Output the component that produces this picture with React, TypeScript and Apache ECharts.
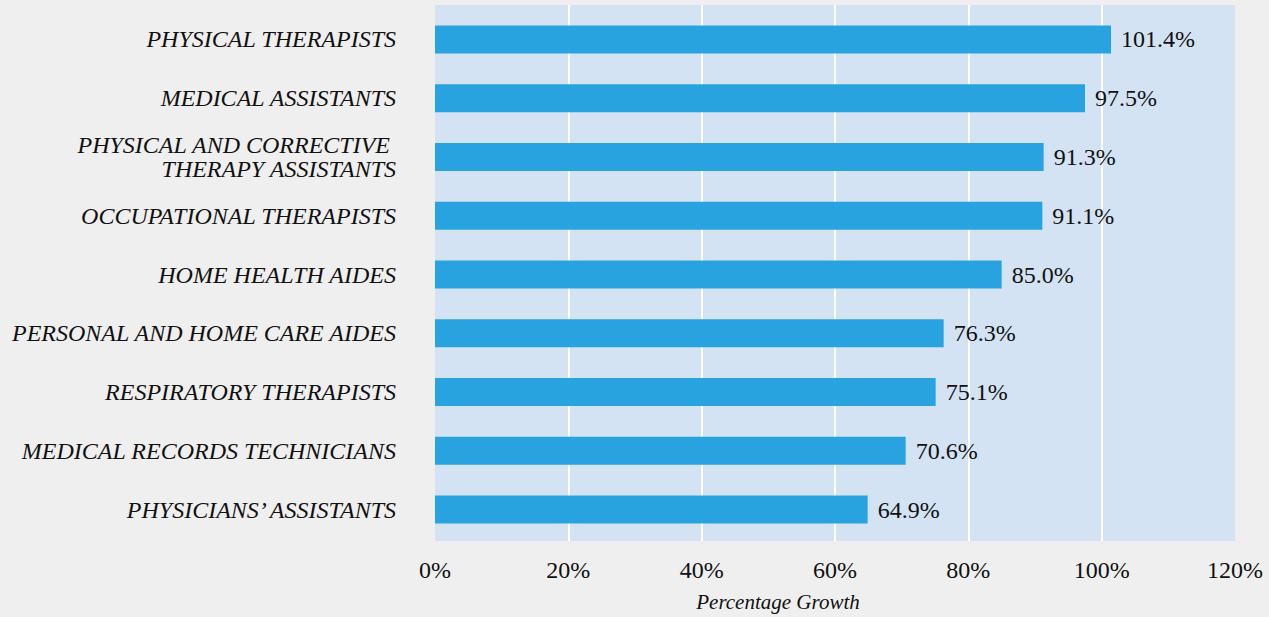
import React, { useEffect, useRef } from "react";
import * as echarts from "echarts";

const categories = [
  "PHYSICAL THERAPISTS",
  "MEDICAL ASSISTANTS",
  "PHYSICAL AND CORRECTIVE \nTHERAPY ASSISTANTS",
  "OCCUPATIONAL THERAPISTS",
  "HOME HEALTH AIDES",
  "PERSONAL AND HOME CARE AIDES",
  "RESPIRATORY THERAPISTS",
  "MEDICAL RECORDS TECHNICIANS",
  "PHYSICIANS\u2019 ASSISTANTS",
];
const growth = [101.4, 97.5, 91.3, 91.1, 85.0, 76.3, 75.1, 70.6, 64.9];
const xMin = 0;
const xMax = 120;
const xStep = 20;
const axisTitle = "Percentage Growth";

const FONT = "'Liberation Serif', 'DejaVu Serif', serif";

export default function App() {
  const ref = useRef<HTMLDivElement>(null);
  useEffect(() => {
    document.body.style.margin = "0";
    const chart = echarts.init(ref.current!, null, { renderer: "svg" });
    chart.setOption({
      animation: false,
      backgroundColor: "#efefef",
      grid: [
        {
          left: 435,
          right: 34,
          top: 5,
          bottom: 76,
          show: true,
          backgroundColor: "#d3e3f4",
          borderWidth: 0,
        },
        { left: 435, right: 34, top: 10, bottom: 78 },
      ],
      xAxis: [
        {
          gridIndex: 0,
          type: "value",
          min: xMin,
          max: xMax,
          interval: xStep,
          axisLine: { show: false },
          axisTick: { show: false },
          splitLine: {
            show: true,
            showMinLine: false,
            showMaxLine: false,
            lineStyle: { color: "#ffffff", width: 2 },
          },
          axisLabel: {
            formatter: "{value}%",
            fontFamily: FONT,
            fontSize: 24,
            color: "#111111",
            margin: 17,
          },
          name: axisTitle,
          nameLocation: "middle",
          nameGap: 50,
          nameTextStyle: {
            fontFamily: FONT,
            fontStyle: "italic",
            fontSize: 21,
            color: "#111111",
            padding: [0, 114, 0, 0],
          },
        },
        {
          gridIndex: 1,
          type: "value",
          min: xMin,
          max: xMax,
          interval: xStep,
          show: false,
        },
      ],
      yAxis: [
        { gridIndex: 0, type: "value", show: false },
        {
          gridIndex: 1,
          type: "category",
          data: categories,
          inverse: true,
          axisLine: { show: false },
          axisTick: { show: false },
          splitLine: { show: false },
          axisLabel: {
            fontFamily: FONT,
            fontStyle: "italic",
            fontSize: 24,
            lineHeight: 24,
            color: "#111111",
            margin: 39,
            align: "right",
            padding: [6, 0, 0, 0],
          },
        },
      ],
      series: [
        {
          type: "bar",
          xAxisIndex: 1,
          yAxisIndex: 1,
          data: growth,
          barWidth: 28,
          itemStyle: { color: "#29a3df" },
          label: {
            show: true,
            position: "right",
            distance: 10,
            fontFamily: FONT,
            fontSize: 24,
            color: "#111111",
            padding: [3, 0, 0, 0],
            formatter: (p: any) => `${Number(p.value).toFixed(1)}%`,
          },
        },
      ],
    });
    return () => chart.dispose();
  }, []);
  return (
    <div
      ref={ref}
      style={{ position: "absolute", left: 0, top: 0, width: 1269, height: 617 }}
    />
  );
}
